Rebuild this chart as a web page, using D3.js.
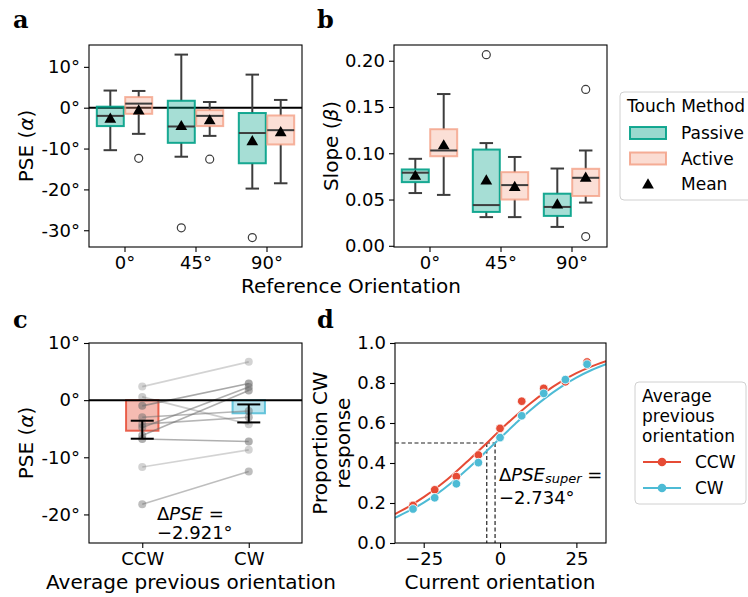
<!DOCTYPE html>
<html><head><meta charset="utf-8">
<script src="https://cdn.jsdelivr.net/npm/d3@7"></script>
<style>body{margin:0;background:#fff}svg{display:block;font-family:"DejaVu Sans",sans-serif}</style>
</head><body><svg id="c" width="748" height="597"></svg>
<script>
// ---------- DATA ----------
const orientations = ["0°", "45°", "90°"];
const methods = ["Passive", "Active"];
// box stats: [lowWhisker, q1, median, q3, highWhisker]
const psePassiveBox = [[-10.4, -4.5, -2.0, 0.25, 4.2], [-12.0, -8.6, -4.6, 1.7, 13.0], [-19.8, -13.6, -6.2, -1.3, 8.1]];
const pseActiveBox  = [[-6.4, -1.5, 1.0, 2.6, 4.1], [-6.9, -4.5, -2.0, -0.6, 1.4], [-18.5, -9.0, -5.5, -1.9, 1.9]];
const psePassiveMean = [-2.6, -4.4, -8.1];
const pseActiveMean  = [-0.6, -3.0, -5.9];
const psePassiveOut = [[], [-29.4], [-31.8]];
const pseActiveOut  = [[-12.4], [-12.6], []];
const pseTicks = [10, 0, -10, -20, -30];

const slopePassiveBox = [[0.057, 0.0688, 0.079, 0.0825, 0.094], [0.031, 0.0366, 0.044, 0.104, 0.111], [0.0204, 0.0323, 0.042, 0.0563, 0.0835]];
const slopeActiveBox  = [[0.055, 0.0968, 0.103, 0.126, 0.164], [0.031, 0.050, 0.0656, 0.0796, 0.096], [0.0467, 0.0538, 0.0735, 0.0832, 0.103]];
const slopePassiveMean = [0.076, 0.071, 0.045];
const slopeActiveMean  = [0.109, 0.064, 0.074];
const slopePassiveOut = [[], [0.2065], []];
const slopeActiveOut  = [[], [], [0.169, 0.010]];
const slopeTicks = [0, 0.05, 0.10, 0.15, 0.20];

const prevCats = ["CCW", "CW"];
const prevMeans = [-5.35, -2.3];
const prevErrLow = [-6.75, -3.9];
const prevErrHigh = [-3.6, -0.75];
const subjCCW = [2.37, 0.57, -1.0, -3.0, -6.2, -4.2, -4.8, -6.8, -11.7, -18.2];
const subjCW  = [6.7, -4.2, 2.9, -1.9, 1.7, -3.0, 2.3, -7.25, -8.7, -12.5];
const subjShade = [0.3, 0.35, 0.6, 0.5, 0.55, 0.5, 0.55, 0.55, 0.3, 0.45];
const pseCTicks = [10, 0, -10, -20];

const currOrient = [-28.5, -21.4, -14.3, -7.1, 0, 7.1, 14.3, 21.4, 28.5];
const propCCW = [0.188, 0.266, 0.332, 0.44, 0.573, 0.709, 0.773, 0.806, 0.905];
const propCW  = [0.17, 0.226, 0.296, 0.402, 0.527, 0.636, 0.748, 0.817, 0.894];
const fitX   = [-34.4, -30, -25, -20, -15, -10, -5, 0, 5, 10, 15, 20, 25, 30, 34.7];
const fitCCW = [0.145, 0.181, 0.229, 0.285, 0.348, 0.418, 0.490, 0.564, 0.634, 0.699, 0.757, 0.807, 0.849, 0.883, 0.909];
const fitCW  = [0.126, 0.159, 0.202, 0.253, 0.313, 0.379, 0.451, 0.524, 0.596, 0.665, 0.727, 0.781, 0.827, 0.865, 0.894];
const pseSuper = [-4.35, -1.63];
const currTicks = [-25, 0, 25];
const propTicks = [0, 0.2, 0.4, 0.6, 0.8, 1.0];

// ---------- STYLE ----------
const TEAL = "#00A087", SALMON = "#F39B7F", RED = "#E64B35", BLUE = "#4DBBD5";
const DARK = "#3d3d3d";
const TICKFS = 18, LABFS = 20, LEGFS = 17;

const svg = d3.select("#c");

function degFmt(v) { return (v < 0 ? "-" : "") + Math.abs(v) + "°"; }

function frame(g, L, R, T, B) {
  g.append("rect").attr("x", L).attr("y", T).attr("width", R - L).attr("height", B - T)
    .attr("fill", "none").attr("stroke", "#000").attr("stroke-width", 1.1);
}
function yAxis(g, scale, ticks, fmt, L) {
  const ax = d3.axisLeft(scale).tickValues(ticks).tickFormat(fmt).tickSize(5).tickPadding(4);
  const a = g.append("g").attr("transform", `translate(${L},0)`).call(ax);
  a.select(".domain").remove();
  a.attr("font-family", null).attr("font-size", null);
  a.selectAll("text").style("font-size", TICKFS + "px").attr("fill", "#000");
  a.selectAll("line").attr("stroke", "#000").attr("stroke-width", 1.1);
}
function xAxis(g, scale, ticks, fmt, B) {
  const ax = d3.axisBottom(scale).tickValues(ticks).tickFormat(fmt).tickSize(5).tickPadding(4);
  const a = g.append("g").attr("transform", `translate(0,${B})`).call(ax);
  a.select(".domain").remove();
  a.attr("font-family", null).attr("font-size", null);
  a.selectAll("text").style("font-size", TICKFS + "px").attr("fill", "#000");
  a.selectAll("line").attr("stroke", "#000").attr("stroke-width", 1.1);
}
function panelLetter(t, x, y) {
  svg.append("text").attr("x", x).attr("y", y).text(t).style("font-family", "'DejaVu Serif', serif")
    .style("font-weight", "bold").style("font-size", "24px");
}
function yLabel(parts, x, cy) {
  const t = svg.append("text").attr("transform", `translate(${x},${cy}) rotate(-90)`)
    .attr("text-anchor", "middle").attr("dominant-baseline", "central").attr("font-size", LABFS);
  parts.forEach(p => t.append("tspan").text(p[0]).attr("font-style", p[1] ? "italic" : "normal"));
}

// ---------- BOX PANELS ----------
function boxPanel(cfg) {
  const { L, R, T, B, domain, ticks, fmt, boxes, means, outs } = cfg;
  const g = svg.append("g");
  const x = d3.scaleLinear().domain([-0.5, 2.5]).range([L, R]);
  const y = d3.scaleLinear().domain(domain).range([B, T]);
  const offs = [-0.2, 0.2];
  const bw = 0.38, cw = 0.19;
  const fills = [TEAL, SALMON];
  if (cfg.zeroLine) {
    g.append("line").attr("x1", L).attr("x2", R).attr("y1", y(0)).attr("y2", y(0))
      .attr("stroke", "#000").attr("stroke-width", 2);
  }
  methods.forEach((m, mi) => {
    boxes[mi].forEach((b, i) => {
      const cx = i + offs[mi];
      const [lo, q1, med, q3, hi] = b;
      g.append("line").attr("x1", x(cx)).attr("x2", x(cx)).attr("y1", y(q3)).attr("y2", y(hi)).attr("stroke", DARK).attr("stroke-width", 2);
      g.append("line").attr("x1", x(cx)).attr("x2", x(cx)).attr("y1", y(q1)).attr("y2", y(lo)).attr("stroke", DARK).attr("stroke-width", 2);
      [lo, hi].forEach(v => g.append("line").attr("x1", x(cx - cw / 2)).attr("x2", x(cx + cw / 2)).attr("y1", y(v)).attr("y2", y(v)).attr("stroke", DARK).attr("stroke-width", 2));
      g.append("rect").attr("x", x(cx - bw / 2)).attr("width", x(bw) - x(0))
        .attr("y", y(q3)).attr("height", y(q1) - y(q3))
        .attr("fill", fills[mi]).attr("fill-opacity", mi === 0 ? 0.35 : 0.32)
        .attr("stroke", fills[mi]).attr("stroke-opacity", mi === 0 ? 0.9 : 0.75).attr("stroke-width", 2);
      g.append("line").attr("x1", x(cx - bw / 2)).attr("x2", x(cx + bw / 2)).attr("y1", y(med)).attr("y2", y(med)).attr("stroke", DARK).attr("stroke-width", 2);
      outs[mi][i].forEach(o => g.append("circle").attr("cx", x(cx)).attr("cy", y(o)).attr("r", 4)
        .attr("fill", "none").attr("stroke", DARK).attr("stroke-width", 1.2));
      g.append("path").attr("d", d3.symbol(d3.symbolTriangle, 60)())
        .attr("transform", `translate(${x(cx)},${y(means[mi][i]) + 1})`).attr("fill", "#000");
    });
  });
  frame(g, L, R, T, B);
  yAxis(g, y, ticks, fmt, L);
  xAxis(g, x, [0, 1, 2], i => orientations[i], B);
}

boxPanel({ L: 89, R: 302, T: 45, B: 247, domain: [-34.1, 15.35], ticks: pseTicks, fmt: degFmt,
  boxes: [psePassiveBox, pseActiveBox], means: [psePassiveMean, pseActiveMean], outs: [psePassiveOut, pseActiveOut], zeroLine: true });
boxPanel({ L: 394, R: 607, T: 45, B: 247, domain: [-0.0013, 0.217], ticks: slopeTicks, fmt: d3.format(".2f"),
  boxes: [slopePassiveBox, slopeActiveBox], means: [slopePassiveMean, slopeActiveMean], outs: [slopePassiveOut, slopeActiveOut] });

panelLetter("a", 13, 28);
panelLetter("b", 317, 28);
yLabel([["PSE ("], ["α", true], [")"]], 26, 146);
yLabel([["Slope ("], ["β", true], [")"]], 331, 146);
svg.append("text").attr("x", 351).attr("y", 286).attr("text-anchor", "middle").attr("dominant-baseline", "central")
  .attr("font-size", LABFS).text("Reference Orientation");

// legend b
{
  const g = svg.append("g");
  g.append("rect").attr("x", 620).attr("y", 92).attr("width", 150).attr("height", 108).attr("rx", 4)
    .attr("fill", "#fff").attr("fill-opacity", 0.8).attr("stroke", "#d0d0d0");
  g.append("text").attr("x", 627).attr("y", 106).attr("dominant-baseline", "central").attr("font-size", LEGFS).text("Touch Method");
  const cols = [TEAL, SALMON];
  methods.forEach((m, i) => {
    const cy = 133 + i * 25.5;
    g.append("rect").attr("x", 630).attr("y", cy - 6).attr("width", 36).attr("height", 12)
      .attr("fill", cols[i]).attr("fill-opacity", i === 0 ? 0.4 : 0.35)
      .attr("stroke", cols[i]).attr("stroke-opacity", i === 0 ? 0.9 : 0.8).attr("stroke-width", 2);
    g.append("text").attr("x", 681).attr("y", cy).attr("dominant-baseline", "central").attr("font-size", LEGFS).text(m);
  });
  g.append("path").attr("d", d3.symbol(d3.symbolTriangle, 60)()).attr("transform", "translate(648,185)").attr("fill", "#000");
  g.append("text").attr("x", 681).attr("y", 184).attr("dominant-baseline", "central").attr("font-size", LEGFS).text("Mean");
}

// ---------- PANEL C ----------
{
  const L = 89, R = 302, T = 343, B = 543;
  const g = svg.append("g");
  const x = d3.scaleLinear().domain([-0.5, 1.5]).range([L, R]);
  const y = d3.scaleLinear().domain([-25, 10]).range([B, T]);
  const bcol = [RED, BLUE];
  prevMeans.forEach((m, i) => {
    g.append("rect").attr("x", x(i - 0.152)).attr("width", x(0.304) - x(0))
      .attr("y", y(0)).attr("height", y(m) - y(0))
      .attr("fill", bcol[i]).attr("fill-opacity", 0.38).attr("stroke", bcol[i]).attr("stroke-opacity", 0.85).attr("stroke-width", 2);
  });
  subjCCW.forEach((v, k) => {
    const a = subjShade[k];
    g.append("line").attr("x1", x(0)).attr("x2", x(1)).attr("y1", y(v)).attr("y2", y(subjCW[k]))
      .attr("stroke", "#6e6e6e").attr("stroke-opacity", a).attr("stroke-width", 1.6);
    g.append("circle").attr("cx", x(0)).attr("cy", y(v)).attr("r", 4).attr("fill", "#6e6e6e").attr("fill-opacity", a);
    g.append("circle").attr("cx", x(1)).attr("cy", y(subjCW[k])).attr("r", 4).attr("fill", "#6e6e6e").attr("fill-opacity", a);
  });
  g.append("line").attr("x1", L).attr("x2", R).attr("y1", y(0)).attr("y2", y(0)).attr("stroke", "#000").attr("stroke-width", 2);
  prevCats.forEach((c, i) => {
    const cx = x(i);
    g.append("line").attr("x1", cx).attr("x2", cx).attr("y1", y(prevErrLow[i])).attr("y2", y(prevErrHigh[i])).attr("stroke", "#000").attr("stroke-width", 2);
    [prevErrLow[i], prevErrHigh[i]].forEach(v => g.append("line").attr("x1", cx - 11.5).attr("x2", cx + 11.5)
      .attr("y1", y(v)).attr("y2", y(v)).attr("stroke", "#000").attr("stroke-width", 2));
  });
  frame(g, L, R, T, B);
  yAxis(g, y, pseCTicks, degFmt, L);
  xAxis(g, x, [0, 1], i => prevCats[i], B);
  const t1 = g.append("text").attr("x", 157).attr("y", 513).attr("dominant-baseline", "central").attr("font-size", 18);
  t1.append("tspan").text("Δ");
  t1.append("tspan").text("PSE").attr("font-style", "italic");
  t1.append("tspan").text(" =");
  g.append("text").attr("x", 157).attr("y", 532).attr("dominant-baseline", "central").attr("font-size", 18).text("−2.921°");
}
panelLetter("c", 13, 328);
yLabel([["PSE ("], ["α", true], [")"]], 26, 443);
svg.append("text").attr("x", 191).attr("y", 582).attr("text-anchor", "middle").attr("dominant-baseline", "central")
  .attr("font-size", LABFS).text("Average previous orientation");

// ---------- PANEL D ----------
{
  const L = 395, R = 606, T = 343, B = 543;
  const g = svg.append("g");
  const x = d3.scaleLinear().domain([-34.4, 34.7]).range([L, R]);
  const y = d3.scaleLinear().domain([0, 1]).range([B, T]);
  const clip = svg.append("clipPath").attr("id", "clipd");
  clip.append("rect").attr("x", L).attr("y", T).attr("width", R - L).attr("height", B - T);
  const gc = g.append("g").attr("clip-path", "url(#clipd)");
  gc.append("line").attr("x1", L).attr("x2", x(pseSuper[1])).attr("y1", y(0.5)).attr("y2", y(0.5))
    .attr("stroke", "#222").attr("stroke-width", 1.2).attr("stroke-dasharray", "4,2.5");
  pseSuper.forEach(p => gc.append("line").attr("x1", x(p)).attr("x2", x(p)).attr("y1", y(0.5)).attr("y2", B)
    .attr("stroke", "#222").attr("stroke-width", 1.2).attr("stroke-dasharray", "4,2.5"));
  const line = d3.line().x((d, i) => x(fitX[i])).y(d => y(d)).curve(d3.curveCatmullRom);
  gc.append("path").attr("d", line(fitCCW)).attr("fill", "none").attr("stroke", RED).attr("stroke-width", 2);
  gc.append("path").attr("d", line(fitCW)).attr("fill", "none").attr("stroke", BLUE).attr("stroke-width", 2);
  currOrient.forEach((o, i) => {
    gc.append("circle").attr("cx", x(o)).attr("cy", y(propCCW[i])).attr("r", 4.3).attr("fill", RED).attr("stroke", "#fff").attr("stroke-width", 0.8);
  });
  currOrient.forEach((o, i) => {
    gc.append("circle").attr("cx", x(o)).attr("cy", y(propCW[i])).attr("r", 4.3).attr("fill", BLUE).attr("stroke", "#fff").attr("stroke-width", 0.8);
  });
  frame(g, L, R, T, B);
  yAxis(g, y, propTicks, d3.format(".1f"), L);
  xAxis(g, x, currTicks, v => (v < 0 ? "−" : "") + Math.abs(v), B);
  const t1 = g.append("text").attr("x", 499).attr("y", 474).attr("dominant-baseline", "central").attr("font-size", 18);
  t1.append("tspan").text("Δ");
  t1.append("tspan").text("PSE").attr("font-style", "italic");
  t1.append("tspan").text("super").attr("font-style", "italic").attr("font-size", 13).attr("dy", 4);
  t1.append("tspan").text(" =").attr("dy", -4);
  g.append("text").attr("x", 499).attr("y", 497).attr("dominant-baseline", "central").attr("font-size", 18).text("−2.734°");
}
panelLetter("d", 317, 328);
{
  const t = svg.append("text").attr("transform", "translate(331,443) rotate(-90)").attr("text-anchor", "middle").attr("font-size", LABFS);
  t.append("tspan").attr("x", 0).attr("dy", -4).text("Proportion CW");
  t.append("tspan").attr("x", 0).attr("dy", 23).text("response");
}
svg.append("text").attr("x", 500).attr("y", 582).attr("text-anchor", "middle").attr("dominant-baseline", "central")
  .attr("font-size", LABFS).text("Current orientation");

// legend d
{
  const g = svg.append("g");
  g.append("rect").attr("x", 635).attr("y", 382).attr("width", 111).attr("height", 122).attr("rx", 4)
    .attr("fill", "#fff").attr("fill-opacity", 0.8).attr("stroke", "#d0d0d0");
  ["Average", "previous", "orientation"].forEach((s, i) =>
    g.append("text").attr("x", 642).attr("y", 396 + i * 20).attr("dominant-baseline", "central").attr("font-size", LEGFS).text(s));
  const cols = [RED, BLUE];
  prevCats.forEach((c, i) => {
    const cy = 462 + i * 26;
    g.append("line").attr("x1", 643).attr("x2", 681).attr("y1", cy).attr("y2", cy).attr("stroke", cols[i]).attr("stroke-width", 2);
    g.append("circle").attr("cx", 662).attr("cy", cy).attr("r", 4.3).attr("fill", cols[i]);
    g.append("text").attr("x", 695).attr("y", cy).attr("dominant-baseline", "central").attr("font-size", LEGFS).text(c);
  });
}
</script></body></html>
